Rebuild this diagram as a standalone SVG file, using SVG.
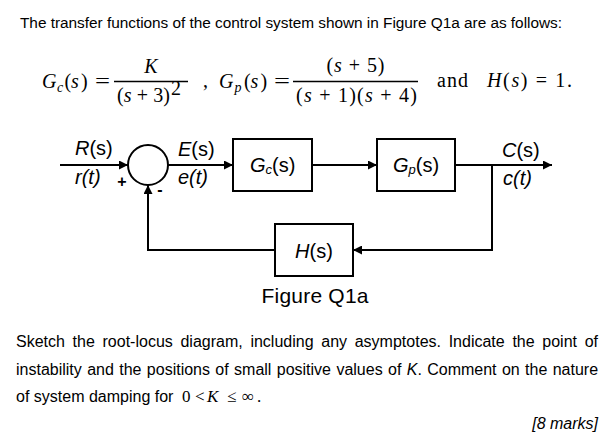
<svg xmlns="http://www.w3.org/2000/svg" width="609" height="439" viewBox="0 0 609 439">
<style>
.sans{font-family:"Liberation Sans",Arial,sans-serif;fill:#000}
.serif{font-family:"Liberation Serif","Times New Roman",serif;fill:#000}
.it{font-style:italic}
.box{fill:#fff;stroke:#000;stroke-width:2}
.wire{fill:none;stroke:#000;stroke-width:2}
.lbl{font-family:"Liberation Sans",Arial,sans-serif;font-size:20px;fill:#000}
.eq{font-family:"Liberation Serif","Times New Roman",serif;font-size:20px;fill:#000}
.bar{stroke:#000;stroke-width:1.3}
</style>
<defs>
<marker id="ah" viewBox="0 0 10 10" refX="10" refY="5" markerWidth="11" markerHeight="9" markerUnits="userSpaceOnUse" orient="auto">
<path d="M0,0 L10,5 L0,10 z" fill="#000"/>
</marker>
</defs>
<rect width="609" height="439" fill="#fff"/>

<text class="sans" x="20" y="28" font-size="15.4" textLength="542" lengthAdjust="spacing">The transfer functions of the control system shown in Figure Q1a are as follows:</text>

<g id="equations">
<text class="eq"><tspan x="42" y="88" class="it">G</tspan><tspan x="57" y="92" font-size="14" class="it">c</tspan><tspan x="64.5" y="88">(</tspan><tspan x="71" y="88" class="it">s</tspan><tspan x="81" y="88">)</tspan></text>
<text class="eq" x="95" y="88" textLength="15" lengthAdjust="spacingAndGlyphs">=</text>
<line class="bar" x1="114" y1="81.5" x2="188" y2="81.5"/>
<text class="eq it" x="151" y="73" text-anchor="middle">K</text>
<text class="eq" x="117" y="102" textLength="53" lengthAdjust="spacing">(<tspan class="it">s</tspan> + 3)</text>
<text class="eq" x="171" y="95" font-size="13">2</text>
<text class="eq" x="203" y="87">,</text>
<text class="eq"><tspan x="219" y="88" class="it">G</tspan><tspan x="234.5" y="92" font-size="14" class="it">p</tspan><tspan x="244" y="88">(</tspan><tspan x="250.5" y="88" class="it">s</tspan><tspan x="260.5" y="88">)</tspan></text>
<text class="eq" x="274" y="88" textLength="16" lengthAdjust="spacingAndGlyphs">=</text>
<line class="bar" x1="293" y1="81.5" x2="418" y2="81.5"/>
<text class="eq" x="326.5" y="72" textLength="58" lengthAdjust="spacing">(<tspan class="it">s</tspan> + 5)</text>
<text class="eq" x="296" y="102" textLength="121" lengthAdjust="spacing">(<tspan class="it">s</tspan> + 1)(<tspan class="it">s</tspan> + 4)</text>
<text class="eq" x="437" y="87" textLength="31" lengthAdjust="spacing">and</text>
<text class="eq" x="487" y="87" textLength="85" lengthAdjust="spacing"><tspan class="it">H</tspan>(<tspan class="it">s</tspan>) = 1.</text>
</g>

<g id="connectors">
<path class="wire" d="M60,165 H128" marker-end="url(#ah)"/>
<path class="wire" d="M168,165 H233" marker-end="url(#ah)"/>
<path class="wire" d="M312,165 H377" marker-end="url(#ah)"/>
<path class="wire" d="M455,165 H552" marker-end="url(#ah)"/>
<path class="wire" d="M492,165 V250 H353" marker-end="url(#ah)"/>
<path class="wire" d="M275,250 H148 V185" marker-end="url(#ah)"/>
</g>

<g id="sum">
<circle cx="148" cy="165" r="20" fill="#fff" stroke="#000" stroke-width="2"/>
<text class="sans" x="122" y="187" font-size="16" text-anchor="middle" font-weight="bold">+</text>
<text class="sans" x="160" y="195" font-size="16" text-anchor="middle" font-weight="bold">-</text>
</g>

<g id="input-label">
<text class="lbl" x="75" y="155"><tspan class="it">R</tspan>(s)</text>
<text class="lbl it" x="75" y="184">r(t)</text>
</g>
<g id="error-label">
<text class="lbl" x="178" y="156"><tspan class="it">E</tspan>(s)</text>
<text class="lbl it" x="178" y="184">e(t)</text>
</g>

<g id="gc">
<rect class="box" x="233" y="139" width="79" height="52"/>
<text class="lbl" x="250" y="172"><tspan class="it">G</tspan><tspan class="it" font-size="13" dy="2">c</tspan><tspan dy="-2">(s)</tspan></text>
</g>

<g id="gp">
<rect class="box" x="377" y="139" width="78" height="52"/>
<text class="lbl" x="393" y="172"><tspan class="it">G</tspan><tspan class="it" font-size="13" dy="2">p</tspan><tspan dy="-2">(s)</tspan></text>
</g>

<g id="output-label">
<text class="lbl" x="502" y="157"><tspan class="it">C</tspan>(s)</text>
<text class="lbl it" x="503" y="185">c(t)</text>
</g>

<g id="h">
<rect class="box" x="275" y="224" width="78" height="52"/>
<text class="lbl" x="314" y="258" text-anchor="middle"><tspan class="it">H</tspan>(s)</text>
</g>

<text class="sans" x="315" y="303" font-size="21" text-anchor="middle" textLength="107" lengthAdjust="spacing">Figure Q1a</text>

<g id="question" class="sans" font-size="16">
<text x="16" y="347" style="word-spacing:3.24px">Sketch the root-locus diagram, including any asymptotes. Indicate the point of</text>
<text x="16" y="375" style="word-spacing:0.92px">instability and the positions of small positive values of <tspan class="it">K</tspan>. Comment on the nature</text>
<text x="16" y="402">of system damping for</text>
<text class="serif" font-size="17" y="402"><tspan x="182">0</tspan><tspan x="195">&lt;</tspan><tspan x="207" class="it">K</tspan><tspan x="227">≤</tspan><tspan x="242">∞</tspan><tspan x="257">.</tspan></text>
<text class="it" x="598" y="429" text-anchor="end">[8 marks]</text>
</g>
</svg>
